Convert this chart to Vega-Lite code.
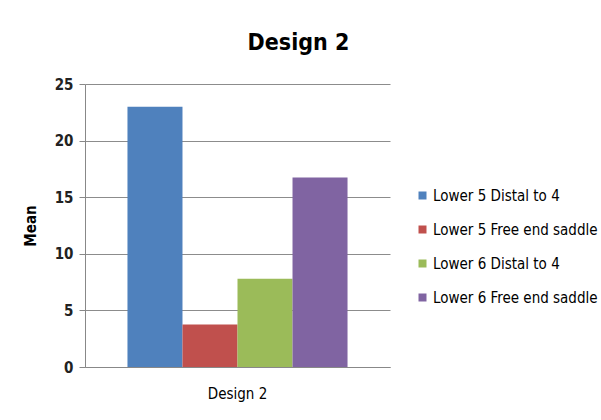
{
  "$schema": "https://vega.github.io/schema/vega-lite/v6.json",
  "autosize": {"type": "none"},
  "width": 305,
  "height": 283,
  "padding": {"left": 85, "top": 84, "right": 211, "bottom": 53},
  "background": "white",
  "title": {
    "text": "Design 2",
    "font": "Liberation Sans Narrow, DejaVu Sans Condensed, sans-serif",
    "fontSize": 23,
    "fontWeight": "bold",
    "color": "#000000",
    "anchor": "middle",
    "frame": "group",
    "dx": 61,
    "offset": 22
  },
  "data": {
    "values": [
      {"group": "Design 2", "series": "Lower 5 Distal to 4", "mean": 23.0},
      {"group": "Design 2", "series": "Lower 5 Free end saddle", "mean": 3.75},
      {"group": "Design 2", "series": "Lower 6 Distal to 4", "mean": 7.8},
      {"group": "Design 2", "series": "Lower 6 Free end saddle", "mean": 16.75}
    ]
  },
  "mark": {"type": "bar"},
  "encoding": {
    "x": {
      "field": "group",
      "type": "nominal",
      "scale": {"paddingInner": 0, "paddingOuter": 0.193},
      "axis": {
        "title": null,
        "labelAngle": 0,
        "ticks": false,
        "domainColor": "#888888",
        "labelFont": "Liberation Sans Narrow, DejaVu Sans Condensed, sans-serif",
        "labelFontSize": 15,
        "labelColor": "#000000",
        "labelPadding": 19
      }
    },
    "xOffset": {
      "field": "series",
      "type": "nominal",
      "sort": null,
      "scale": {"paddingInner": 0, "paddingOuter": 0}
    },
    "y": {
      "field": "mean",
      "type": "quantitative",
      "scale": {"domain": [0, 25]},
      "axis": {
        "title": "Mean",
        "values": [0, 5, 10, 15, 20, 25],
        "titleFont": "Liberation Sans Narrow, DejaVu Sans Condensed, sans-serif",
        "titleFontSize": 15,
        "titleFontWeight": "bold",
        "titleColor": "#000000",
        "titlePadding": 16,
        "labelFont": "Liberation Sans Narrow, DejaVu Sans Condensed, sans-serif",
        "labelFontSize": 15,
        "labelFontWeight": "bold",
        "labelColor": "#222222",
        "labelPadding": 6,
        "tickSize": 6,
        "tickColor": "#888888",
        "domainColor": "#888888",
        "gridColor": "#8c8c8c",
        "gridWidth": 1
      }
    },
    "color": {
      "field": "series",
      "type": "nominal",
      "sort": null,
      "scale": {
        "domain": ["Lower 5 Distal to 4", "Lower 5 Free end saddle", "Lower 6 Distal to 4", "Lower 6 Free end saddle"],
        "range": ["#4F81BD", "#C0504D", "#9BBB59", "#8064A2"]
      },
      "legend": {
        "title": null,
        "orient": "none",
        "legendX": 330,
        "legendY": 104,
        "symbolType": "square",
        "symbolSize": 64,
        "symbolStrokeWidth": 0,
        "symbolOpacity": 1,
        "labelFont": "Liberation Sans Narrow, DejaVu Sans Condensed, sans-serif",
        "labelFontSize": 15,
        "labelColor": "#000000",
        "labelOffset": 3,
        "rowPadding": 18,
        "labelLimit": 300
      }
    }
  },
  "config": {
    "view": {"stroke": null}
  }
}
